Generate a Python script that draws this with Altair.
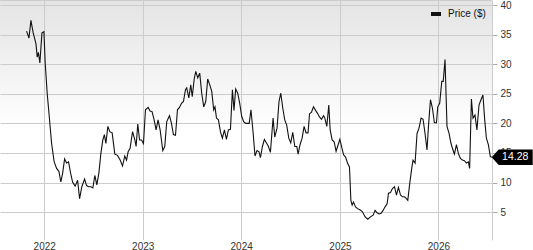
import altair as alt
import pandas as pd
import numpy as np

# Weekly closing price, dates as decimal years
dec_dates = [
    2021.821, 2021.845, 2021.865, 2021.888, 2021.916, 2021.929, 2021.941, 2021.956, 2021.977, 2021.997,
    2022.010, 2022.030, 2022.051, 2022.075, 2022.101, 2022.126, 2022.149, 2022.169, 2022.187, 2022.207,
    2022.227, 2022.247, 2022.268, 2022.288, 2022.314, 2022.339, 2022.359, 2022.382, 2022.410, 2022.430,
    2022.450, 2022.474, 2022.494, 2022.514, 2022.534, 2022.555, 2022.575, 2022.595, 2022.611, 2022.626,
    2022.646, 2022.666, 2022.690, 2022.717, 2022.744, 2022.771, 2022.795, 2022.818, 2022.836, 2022.852,
    2022.872, 2022.897, 2022.920, 2022.933, 2022.950, 2022.968, 2022.988, 2023.008, 2023.028, 2023.055,
    2023.075, 2023.095, 2023.116, 2023.136, 2023.156, 2023.177, 2023.204, 2023.224, 2023.244, 2023.272,
    2023.292, 2023.312, 2023.333, 2023.353, 2023.373, 2023.394, 2023.414, 2023.434, 2023.447, 2023.468,
    2023.488, 2023.503, 2023.523, 2023.539, 2023.559, 2023.579, 2023.599, 2023.620, 2023.640, 2023.660,
    2023.681, 2023.701, 2023.721, 2023.734, 2023.749, 2023.769, 2023.789, 2023.809, 2023.830, 2023.850,
    2023.870, 2023.891, 2023.911, 2023.927, 2023.944, 2023.965, 2023.985, 2024.005, 2024.025, 2024.046,
    2024.066, 2024.081, 2024.099, 2024.120, 2024.140, 2024.160, 2024.181, 2024.195, 2024.215, 2024.235,
    2024.256, 2024.276, 2024.296, 2024.323, 2024.340, 2024.363, 2024.383, 2024.401, 2024.421, 2024.441,
    2024.461, 2024.482, 2024.502, 2024.522, 2024.543, 2024.563, 2024.576, 2024.596, 2024.617, 2024.637,
    2024.657, 2024.677, 2024.692, 2024.712, 2024.732, 2024.753, 2024.773, 2024.793, 2024.813, 2024.834,
    2024.847, 2024.867, 2024.887, 2024.901, 2024.921, 2024.941, 2024.961, 2024.982, 2024.999, 2025.016,
    2025.037, 2025.057, 2025.077, 2025.097, 2025.111, 2025.124, 2025.138, 2025.158, 2025.179, 2025.202,
    2025.227, 2025.256, 2025.283, 2025.310, 2025.337, 2025.357, 2025.377, 2025.398, 2025.418, 2025.438,
    2025.458, 2025.479, 2025.493, 2025.513, 2025.533, 2025.554, 2025.574, 2025.594, 2025.615, 2025.635,
    2025.655, 2025.675, 2025.689, 2025.709, 2025.729, 2025.742, 2025.763, 2025.783, 2025.803, 2025.824,
    2025.844, 2025.864, 2025.884, 2025.899, 2025.919, 2025.939, 2025.959, 2025.980, 2025.993, 2026.013,
    2026.034, 2026.049, 2026.067, 2026.087, 2026.108, 2026.128, 2026.148, 2026.162, 2026.183, 2026.203,
    2026.223, 2026.243, 2026.264, 2026.284, 2026.304, 2026.317, 2026.335, 2026.351, 2026.371, 2026.391,
    2026.412, 2026.432, 2026.452, 2026.470, 2026.487, 2026.507, 2026.527, 2026.541,
]
prices = [
    35.6, 34.4, 37.4, 35.3, 33.5, 31.2, 32.0, 30.2, 35.3, 35.5,
    30.2, 25.1, 21.2, 16.6, 13.5, 12.4, 11.9, 10.1, 11.6, 14.0,
    13.3, 13.5, 11.6, 10.1, 9.4, 10.4, 7.3, 9.3, 10.6, 9.5,
    9.3, 9.3, 9.1, 11.2, 9.6, 11.6, 14.9, 17.2, 18.1, 16.6,
    19.5, 18.6, 18.4, 14.8, 14.6, 13.8, 12.8, 14.5, 13.8, 15.2,
    15.8, 18.6, 17.2, 16.1, 19.9, 17.2, 17.2, 16.6, 22.3, 22.7,
    22.1, 22.0, 20.6, 18.9, 20.6, 18.9, 15.4, 16.1, 20.3, 21.3,
    20.0, 18.1, 18.0, 22.3, 22.7, 23.4, 23.7, 25.7, 26.0, 24.3,
    26.5, 24.5, 27.5, 28.8, 27.7, 28.5, 25.1, 22.8, 23.7, 27.5,
    26.5, 25.4, 22.3, 22.8, 20.9, 20.6, 18.6, 17.5, 18.9, 17.3,
    18.9, 19.0, 25.7, 22.2, 25.8, 25.1, 23.4, 21.2, 20.3, 20.0,
    20.0, 20.0, 22.3, 18.6, 14.5, 15.4, 15.2, 14.2, 16.1, 17.3,
    16.7, 16.1, 15.1, 20.9, 17.7, 19.2, 23.7, 25.1, 22.6, 20.6,
    19.7, 17.5, 16.7, 18.5, 16.1, 16.1, 14.8, 16.4, 17.5, 19.5,
    18.4, 18.4, 21.6, 21.9, 22.8, 22.2, 21.7, 21.1, 20.7, 21.3,
    20.9, 19.5, 23.1, 18.9, 17.2, 16.9, 15.3, 16.4, 17.3, 16.1,
    14.7, 14.3, 13.3, 12.6, 7.0, 6.2, 6.7, 5.9, 5.6, 5.4,
    5.1, 4.2, 3.8, 4.2, 4.5, 5.3, 4.9, 4.7, 4.8, 5.3,
    5.9, 6.4, 8.2, 8.3, 9.0, 9.3, 7.9, 9.2, 7.9, 7.6,
    7.6, 7.3, 7.0, 9.9, 12.4, 13.8, 13.3, 18.3, 19.2, 20.9,
    20.7, 18.3, 15.5, 19.5, 24.0, 22.6, 20.1, 20.1, 22.8, 23.4,
    27.1, 27.1, 30.8, 19.5, 18.3, 16.6, 15.5, 14.8, 16.4, 14.9,
    14.1, 13.8, 13.7, 13.3, 13.5, 12.4, 24.1, 20.9, 21.4, 18.9,
    23.1, 24.0, 24.8, 20.6, 17.5, 16.4, 14.4, 14.28,
]
series_name = "Price ($)"
y_ticks = [5, 10, 15, 20, 25, 30, 35, 40]
x_domain_dec = [2021.551, 2026.544]
y_domain = [0.3, 40.85]


def to_ts(t):
    y = int(np.floor(t))
    start = pd.Timestamp(year=y, month=1, day=1)
    end = pd.Timestamp(year=y + 1, month=1, day=1)
    ts = start + (end - start) * (t - y)
    return ts.strftime("%Y-%m-%dT%H:%M:%S")


df = pd.DataFrame({
    "date": [to_ts(t) for t in dec_dates],
    "price": prices,
    "series": series_name,
})
last = df.tail(1)
x_domain = [to_ts(t) for t in x_domain_dec]

FONT = "Liberation Sans, Arial, sans-serif"

x_scale = alt.Scale(domain=x_domain)
y_scale = alt.Scale(domain=y_domain, nice=False, zero=False)

x_enc = alt.X(
    "date:T",
    scale=x_scale,
    axis=alt.Axis(
        format="%Y", tickCount={"interval": "year", "step": 1},
        grid=True, gridColor="#cccccc", gridWidth=1,
        domain=False, ticks=False, labelPadding=1, labelOverlap=False,
        labelFontSize=10, labelColor="#333333", labelFont=FONT, title=None,
    ),
)
y_enc = alt.Y(
    "price:Q",
    scale=y_scale,
    axis=alt.Axis(
        orient="right", values=y_ticks, tickCount=20, grid=True, gridColor="#cccccc", gridWidth=1,
        domain=True, domainColor="#cccccc", ticks=True, tickSize=5, tickColor="#aaaaaa",
        labelPadding=3, labelFontSize=10, labelColor="#333333", labelFont=FONT, title=None,
        labelOverlap=False, labelBound=False,
    ),
)

line = alt.Chart(df).mark_line(strokeWidth=1.1).encode(
    x=x_enc,
    y=y_enc,
    color=alt.Color(
        "series:N",
        scale=alt.Scale(range=["#111111"]),
        legend=alt.Legend(
            orient="none", legendX=429, legendY=7, title=None,
            symbolType="stroke", symbolSize=100, symbolStrokeWidth=4,
            labelFontSize=10, labelFont=FONT, labelColor="#111111",
            labelOffset=5, padding=0,
        ),
    ),
)

top_rule = alt.Chart(pd.DataFrame({"a": [0]})).mark_rule(color="#cccccc", strokeWidth=1).encode(
    x=alt.value(0), x2=alt.value("width"), y=alt.value(0.5)
)

pointer = alt.Chart(last).mark_point(
    shape="M-1,0L-0.659,-0.383L1,-0.383L1,0.383L-0.659,0.383Z",
    size=1681, filled=True, fill="#000000", opacity=1, strokeWidth=0, xOffset=20.5,
).encode(x=x_enc, y=y_enc)

last_label = alt.Chart(last).mark_text(
    color="#ffffff", fontSize=10.5, font=FONT, align="center", baseline="middle", xOffset=23.5,
).encode(x=x_enc, y=y_enc, text=alt.Text("price:Q", format=".2f"))

gradient_expr = (
    "{'gradient': 'linear', 'x1': 0, 'y1': 0, 'x2': 0, 'y2': 1, "
    "'stops': [{'offset': 0, 'color': '#e4e4e4'}, {'offset': 0.55, 'color': '#ffffff'}, "
    "{'offset': 1, 'color': '#ffffff'}]}"
)

chart = alt.layer(top_rule, line, pointer, last_label).properties(
    width=492,
    height=240,
    autosize=alt.AutoSizeParams(type="none"),
    padding={"left": 0, "top": 0, "right": 41, "bottom": 10},
    background="#ffffff",
).configure_view(stroke=None, fill={"expr": gradient_expr})

chart.save("out.html", embed_options={"renderer": "svg", "actions": False})
